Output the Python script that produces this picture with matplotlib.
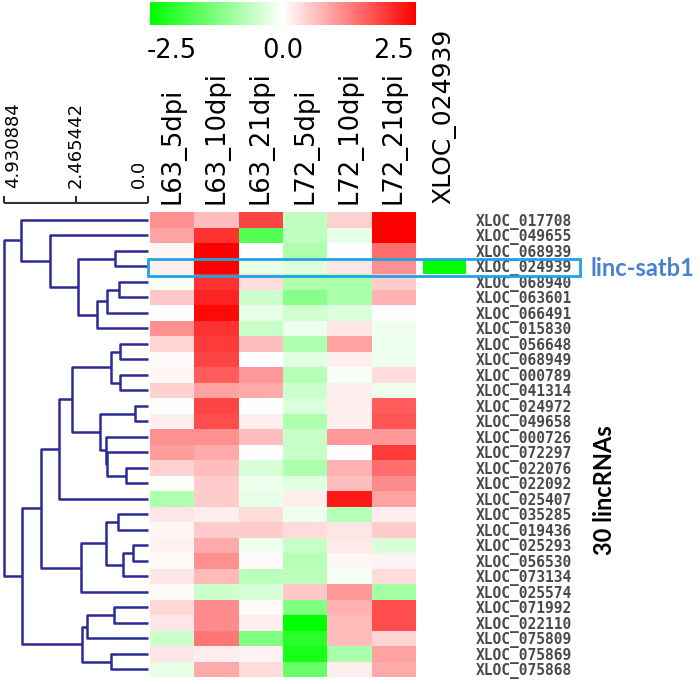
import numpy as np
import matplotlib
matplotlib.use("Agg")
import matplotlib.pyplot as plt
from matplotlib.colors import LinearSegmentedColormap
from matplotlib.patches import Rectangle

plt.rcParams['axes.unicode_minus'] = False

# row / column labels
row_labels = ["XLOC_017708", "XLOC_049655", "XLOC_068939", "XLOC_024939", "XLOC_068940",
              "XLOC_063601", "XLOC_066491", "XLOC_015830", "XLOC_056648", "XLOC_068949",
              "XLOC_000789", "XLOC_041314", "XLOC_024972", "XLOC_049658", "XLOC_000726",
              "XLOC_072297", "XLOC_022076", "XLOC_022092", "XLOC_025407", "XLOC_035285",
              "XLOC_019436", "XLOC_025293", "XLOC_056530", "XLOC_073134", "XLOC_025574",
              "XLOC_071992", "XLOC_022110", "XLOC_075809", "XLOC_075869", "XLOC_075868"]
col_labels = ["L63_5dpi", "L63_10dpi", "L63_21dpi", "L72_5dpi", "L72_10dpi", "L72_21dpi"]

# expression values (one list per column, rows in dendrogram order)
L63_5dpi = [1.3, 1.1, 0.1, 0.2, -0.1, 0.65, 0.0, 1.3, 0.5, 0.05,
            0.1, 0.55, 0.0, 0.2, 1.3, 1.15, 0.55, -0.05, -0.95, 0.3,
            0.1, 0.15, 0.05, 0.3, 0.05, 0.45, 0.3, -0.6, 0.3, -0.3]
L63_10dpi = [0.75, 2.4, 3.0, 3.0, 2.4, 2.6, 2.9, 2.4, 2.3, 2.2,
             1.9, 1.1, 2.2, 2.1, 1.3, 1.0, 0.75, 0.6, 0.6, 0.2,
             0.6, 1.0, 1.3, 0.8, -0.6, 1.35, 1.35, 1.6, 0.2, 1.0]
L63_21dpi = [2.2, -2.0, 0.0, -0.3, 0.4, -0.6, -0.3, -0.65, 0.75, 0.0,
             1.2, 1.0, 0.0, 0.2, 0.75, 0.0, -0.45, -0.2, -0.3, 0.4,
             0.6, -0.2, 0.05, -0.8, -0.45, 0.05, 0.2, -1.5, 0.15, 0.4]
L72_5dpi = [-0.75, -0.75, -0.95, -0.4, -0.95, -1.4, -0.55, -0.2, -0.95, -0.35,
            -0.85, -0.6, -0.4, -0.95, -0.65, -0.65, -0.95, -0.35, 0.2, -0.2,
            0.4, -0.65, -0.85, -0.8, 0.65, -1.5, -3.0, -2.5, -2.7, -1.8]
L72_10dpi = [0.55, -0.3, 0.0, 0.3, -1.0, -1.0, -0.4, 0.3, 1.1, 0.2,
             -0.1, 0.2, 0.2, 0.2, 1.2, 0.0, 0.9, 0.75, 2.7, -0.85,
             0.3, 0.25, 0.1, -0.1, 1.2, 0.9, 0.8, 0.8, -1.0, 0.2]
L72_21dpi = [3.0, 3.0, 1.7, 1.3, 0.6, 0.9, 0.0, -0.2, -0.2, -0.2,
             0.4, -0.2, 1.9, 2.0, 1.2, 2.3, 1.7, 1.35, 1.1, 0.2,
             0.6, -0.45, 0.15, 0.4, -1.1, 2.1, 2.1, 0.5, 1.1, 1.0]

# single highlighted column
satb1_label = "XLOC_024939"
satb1_row = 3
satb1_value = -3.0

# hierarchical clustering merges (new node ids start at 30)
merge_left = [4, 30, 31, 2, 33, 1, 0,
              8, 10, 37, 12, 16, 15, 14, 40, 39, 45, 19, 21, 48, 47, 50, 46,
              25, 53, 28, 54, 52, 36]
merge_right = [5, 6, 7, 3, 32, 34, 35,
               9, 11, 38, 13, 17, 41, 42, 43, 44, 18, 20, 22, 23, 49, 24, 51,
               26, 27, 29, 55, 56, 57]
merge_height = [0.99, 1.40, 1.75, 1.13, 2.40, 3.37, 4.35,
                0.95, 0.95, 1.25, 0.44, 0.74, 1.39, 1.44, 1.64, 2.60, 3.05, 1.04, 0.53, 0.84, 1.44, 2.29, 3.65,
                1.17, 2.08, 1.25, 2.25, 4.31, 4.930884]
scale_ticks = [4.930884, 2.465442, 0.0]

W, H = 700, 684
fig = plt.figure(figsize=(W / 100, H / 100), dpi=100)


def px_axes(x0, y0, x1, y1):
    return fig.add_axes([x0 / W, 1 - y1 / H, (x1 - x0) / W, (y1 - y0) / H])


cmap = LinearSegmentedColormap.from_list("gwr", ["#00ff00", "#ffffff", "#ff0000"])
n = len(row_labels)
data = np.column_stack([L63_5dpi, L63_10dpi, L63_21dpi, L72_5dpi, L72_10dpi, L72_21dpi])

# main heatmap
ax = px_axes(150, 212, 416, 677)
ax.pcolormesh(np.arange(data.shape[1] + 1), np.arange(n + 1), data, cmap=cmap, vmin=-3, vmax=3)
ax.set_ylim(n, 0)
ax.set_yticks([])
ax.xaxis.tick_top()
ax.set_xticks(np.arange(len(col_labels)) + 0.5)
ax.set_xticklabels(col_labels, rotation=90, fontsize=18.5)
ax.tick_params(axis='x', length=0, pad=6)
for s in ax.spines.values():
    s.set_visible(False)

# extra column
ax2 = px_axes(423, 212, 466, 677)
extra = np.full((n, 1), np.nan)
extra[satb1_row, 0] = satb1_value
ax2.pcolormesh([0, 1], np.arange(n + 1), np.ma.masked_invalid(extra), cmap=cmap, vmin=-3, vmax=3)
ax2.set_ylim(n, 0)
ax2.xaxis.tick_top()
ax2.set_xticks([0.5])
ax2.set_xticklabels([satb1_label], rotation=90, fontsize=18)
ax2.yaxis.tick_right()
ax2.set_yticks(np.arange(n) + 0.5)
ax2.set_yticklabels(row_labels, fontsize=10.5, family='DejaVu Sans Mono',
                    fontweight='bold', color='#4a4a4a')
ax2.tick_params(axis='both', length=0)
ax2.tick_params(axis='x', pad=6)
ax2.tick_params(axis='y', pad=7)
for s in ax2.spines.values():
    s.set_visible(False)

# highlight box (drawn on top of every axes)
fig.add_artist(Rectangle((148 / W, 1 - 276 / H), (580 - 148) / W, 17 / H,
                         transform=fig.transFigure, fill=False, edgecolor='#1fa2e6',
                         lw=2, zorder=10))
fig.text(590 / W, 1 - 268 / H, "linc-satb1", color='#4a80d0', fontsize=17,
         fontweight='bold', family='Lato', va='center', ha='left')
fig.text(605 / W, 1 - 490 / H, "30 lincRNAs", color='black', fontsize=17,
         fontweight='bold', family='Lato', va='center', ha='center', rotation=90)

# dendrogram
axd = px_axes(0, 212, 150, 677)
xl = (5.067, -0.068)
pos = {i: i + 0.5 for i in range(n)}
ht = {i: 0.0 for i in range(n)}
for k, (a, b, h) in enumerate(zip(merge_left, merge_right, merge_height)):
    node = n + k
    axd.plot([ht[a], h, h, ht[b]], [pos[a], pos[a], pos[b], pos[b]],
             color='#2b2b96', lw=1.8, solid_capstyle='butt')
    pos[node] = (pos[a] + pos[b]) / 2
    ht[node] = h
axd.set_xlim(*xl)
axd.set_ylim(n, 0)
axd.axis('off')

# dendrogram scale
axs = px_axes(0, 150, 150, 204)
axs.set_xlim(*xl)
axs.set_ylim(0, 1)
axs.hlines(0.02, scale_ticks[-1], scale_ticks[0], color='#333333', lw=1.5)
axs.vlines(scale_ticks, 0.02, 0.15, color='#333333', lw=1.5)
for t, ha in zip(scale_ticks, ['left', 'center', 'right']):
    axs.text(t, 0.3, str(t), rotation=90, ha=ha, va='bottom', fontsize=13)
axs.axis('off')

# colorbar
axc = px_axes(150, 2, 416, 25)
grad = np.linspace(-3, 3, 256).reshape(1, -1)
axc.imshow(grad, cmap=cmap, vmin=-3, vmax=3, aspect='auto', extent=(-3, 3, 0, 1))
axc.set_yticks([])
axc.set_xticks([-2.5, 0.0, 2.5])
axc.set_xticklabels(["-2.5", "0.0", "2.5"], fontsize=18.5)
axc.tick_params(axis='x', length=0, pad=9)
for s in axc.spines.values():
    s.set_visible(False)

fig.savefig("out.png", dpi=100)
